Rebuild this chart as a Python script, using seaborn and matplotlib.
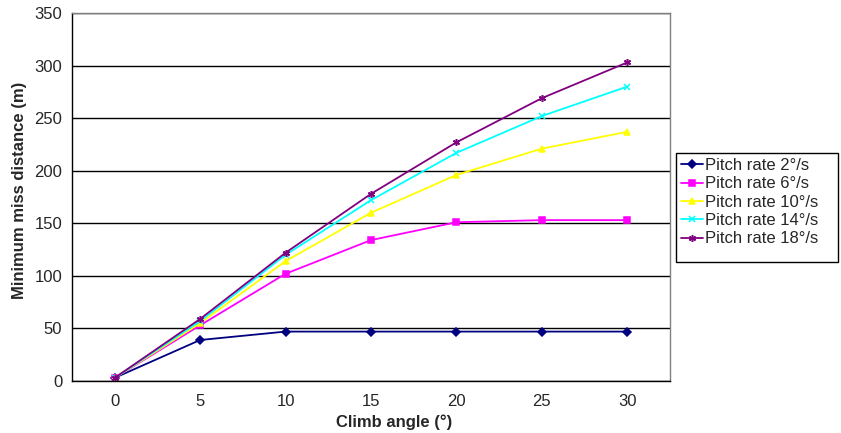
import matplotlib
matplotlib.use("Agg")
import matplotlib.pyplot as plt
from matplotlib.patches import Rectangle
import seaborn as sns

# values
climb_angles = ["0", "5", "10", "15", "20", "25", "30"]
rate_2 = [3, 39, 47, 47, 47, 47, 47]
rate_6 = [3, 53, 102, 134, 151, 153, 153]
rate_10 = [3, 55, 114, 160, 196, 221, 237]
rate_14 = [3, 57, 120, 172, 217, 252, 280]
rate_18 = [3, 59, 122, 178, 227, 269, 303]
series_names = ["Pitch rate 2°/s", "Pitch rate 6°/s", "Pitch rate 10°/s",
                "Pitch rate 14°/s", "Pitch rate 18°/s"]
series_vals = [rate_2, rate_6, rate_10, rate_14, rate_18]

sns.set_style("white")
plt.rcParams["font.family"] = ["Liberation Sans", "DejaVu Sans"]

colors = ["#000080", "#FF00FF", "#FFFF00", "#00FFFF", "#800080"]
markers = ["D", "s", "^", "x", (6, 2, 0)]
msizes = [3.8, 4.2, 4.6, 4.8, 5.0]
positions = list(range(len(climb_angles)))

W, H = 841, 433
fig = plt.figure(figsize=(W / 100, H / 100), dpi=100)
ax = fig.add_axes([72 / W, 52 / H, 598 / W, 368 / H])

# draw each series separately (markers mix filled and line types)
for name, vals, c, m, ms in zip(series_names, series_vals, colors, markers, msizes):
    sns.lineplot(x=positions, y=vals, color=c, marker=m, markersize=ms,
                 markeredgecolor=c, markeredgewidth=1.1, linewidth=1.3,
                 label=name, ax=ax)

ax.set_xlim(-0.5, len(climb_angles) - 0.5)
ax.set_ylim(0, 350)
ax.set_xticks(positions)
ax.set_xticklabels(climb_angles)
ax.set_xticks([i - 0.5 for i in range(len(climb_angles) + 1)], minor=True)
ax.tick_params(axis="x", which="major", length=0, pad=9, labelsize=12)
ax.tick_params(axis="x", which="minor", length=3.5, width=1, direction="out", color="black")
ax.set_yticks(range(0, 351, 50))
ax.tick_params(axis="y", length=4.5, width=1, direction="out", color="black", labelsize=12, pad=2.5)
ax.yaxis.grid(True, color="black", linewidth=1)
ax.set_axisbelow(True)

for side in ["left", "bottom"]:
    ax.spines[side].set_color("black")
    ax.spines[side].set_linewidth(1)
for side in ["top", "right"]:
    ax.spines[side].set_color("#808080")
    ax.spines[side].set_linewidth(1)

ax.set_xlabel("Climb angle (°)", fontsize=12, fontweight="bold")
ax.xaxis.set_label_coords((394 - 72) / 598, (381 - 414) / 368)
ax.set_ylabel("Minimum miss distance (m)", fontsize=12, fontweight="bold")
ax.yaxis.set_label_coords((27 - 72) / 598, (381 - 190) / 368)

handles, labels = ax.get_legend_handles_labels()
ax.get_legend().remove()
leg = fig.legend(handles, labels, loc="upper left", bbox_to_anchor=(676 / W, 1 - 153 / H),
                 fontsize=12, frameon=False, handlelength=1.3, handletextpad=0.15,
                 labelspacing=0.2, borderpad=0.3, borderaxespad=0)
# legend box (taller than its entries, as in the reference)
fig.patches.append(Rectangle((676 / W, 1 - 262 / H), 162 / W, 109 / H,
                             transform=fig.transFigure, facecolor="none",
                             edgecolor="black", linewidth=1))

fig.savefig("out.png", dpi=100)
